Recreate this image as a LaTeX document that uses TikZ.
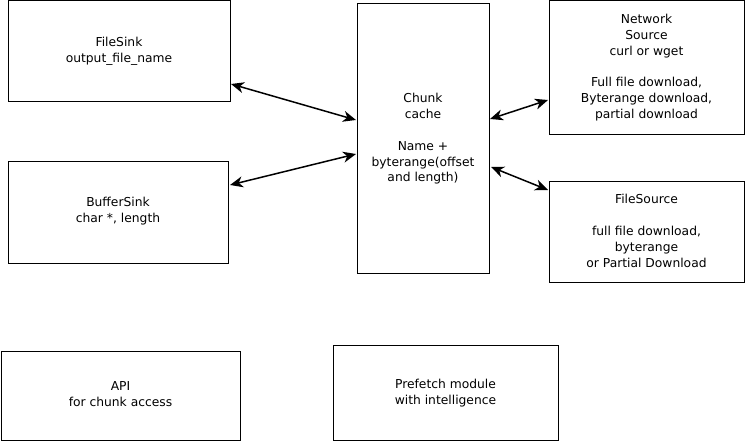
\documentclass[tikz,border=0pt]{standalone}
\usepackage{fontspec}
\setmainfont{DejaVu Sans}
\usetikzlibrary{arrows.meta}
\begin{document}
\begin{tikzpicture}[x=1pt,y=-1pt,
  box/.style={draw,line width=1pt},
  lbl/.style={align=center,font=\fontsize{12.3}{15.8}\selectfont,inner sep=0pt},
  link/.style={line width=1.5pt,{Stealth[length=13pt,width=11pt,inset=4pt]}-{Stealth[length=13pt,width=11pt,inset=4pt]}}]
\useasboundingbox (0,0) rectangle (746,444);
\draw[box] (8,1) rectangle (230,101);
\node[lbl] (filesink) at (119,51) {FileSink\\output\_file\_name};
\draw[box] (8,161) rectangle (228,263);
\node[lbl] (buffersink) at (118,211) {BufferSink\\char *, length};
\draw[box] (357,4) rectangle (489,273);
\node[lbl] (chunk) at (423,139) {Chunk\\cache\\[15.8pt]Name +\\byterange(offset\\and length)};
\draw[box] (549,1) rectangle (744,134);
\node[lbl] (network) at (646.5,67.5) {Network\\Source\\curl or wget\\[15.8pt]Full file download,\\Byterange download,\\partial download};
\draw[box] (549,181) rectangle (744,282);
\node[lbl] (filesource) at (646.5,231) {FileSource\\[15.8pt]full file download,\\byterange\\or Partial Download};
\draw[box] (1,351) rectangle (240,440);
\node[lbl] (api) at (120.5,394) {API\\for chunk access};
\draw[box] (333,345) rectangle (558,440);
\node[lbl] (prefetch) at (445.5,393) {Prefetch module\\with intelligence};
\coordinate (a1) at (231,84); \coordinate (b1) at (356,120);
\coordinate (a2) at (230,185); \coordinate (b2) at (356,154);
\coordinate (a3) at (490,119); \coordinate (b3) at (548,100);
\coordinate (a4) at (491,167); \coordinate (b4) at (548,190);
\draw[link] (a1) -- (b1);
\draw[link] (a2) -- (b2);
\draw[link] (a3) -- (b3);
\draw[link] (a4) -- (b4);
\end{tikzpicture}
\end{document}
